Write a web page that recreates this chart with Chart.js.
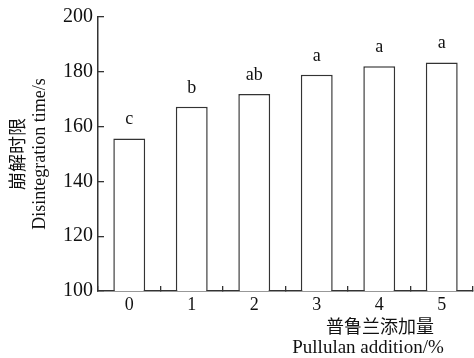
<!DOCTYPE html>
<html>
<head>
<meta charset="utf-8">
<script src="https://cdn.jsdelivr.net/npm/chart.js@4/dist/chart.umd.min.js"></script>
<style>
  body { margin: 0; background: #fff; }
  canvas { display: block; }
</style>
</head>
<body>
<canvas id="chart" width="474" height="358"></canvas>
<script>
const additions = ['0', '1', '2', '3', '4', '5'];
const disintegrationTimes = [155.7, 167.2, 171.9, 178.9, 182.0, 183.4];
const sigLetters = ['c', 'b', 'ab', 'a', 'a', 'a'];

const SERIF = '"Liberation Serif", "Times New Roman", serif';
const CJK = '"Noto Sans CJK SC", sans-serif';

// significance letters above each bar, plus the x axis title lines
const letterPlugin = {
  id: 'letters',
  afterDatasetsDraw(chart) {
    const ctx = chart.ctx;
    const meta = chart.getDatasetMeta(0);
    ctx.save();
    ctx.fillStyle = '#111';
    ctx.font = '18px ' + SERIF;
    ctx.textAlign = 'center';
    ctx.textBaseline = 'middle';
    meta.data.forEach((bar, i) => {
      ctx.fillText(sigLetters[i], bar.x, bar.y - 19);
    });
    ctx.restore();
  },
  afterDraw(chart) {
    const ctx = chart.ctx;
    ctx.save();
    ctx.fillStyle = '#111';
    ctx.textAlign = 'center';
    ctx.textBaseline = 'middle';
    ctx.font = '18px ' + CJK;
    ctx.fillText('普鲁兰添加量', 380, 326);
    ctx.font = '19px ' + SERIF;
    ctx.fillText('Pullulan addition/%', 368, 348);
    ctx.restore();
  }
};

new Chart(document.getElementById('chart'), {
  type: 'bar',
  data: {
    labels: additions,
    datasets: [{
      data: disintegrationTimes,
      backgroundColor: '#fff',
      borderColor: '#333',
      borderWidth: 1.5,
      barPercentage: 0.51,
      categoryPercentage: 1
    }]
  },
  options: {
    responsive: false,
    animation: false,
    layout: { padding: { top: 17, right: 1, left: 0, bottom: 0 } },
    plugins: { legend: { display: false }, tooltip: { enabled: false } },
    scales: {
      x: {
        grid: { display: true, drawOnChartArea: false, tickLength: -5, color: '#333', lineWidth: 1.3 },
        border: { color: '#333', width: 1.5 },
        ticks: { color: '#111', font: { family: SERIF, size: 18 }, padding: 8 },
        afterFit: s => { s.height = 67; }
      },
      y: {
        min: 100,
        max: 200,
        ticks: { stepSize: 20, color: '#111', font: { family: SERIF, size: 20 }, padding: 11 },
        grid: { display: true, drawOnChartArea: false, tickLength: -6, color: '#333', lineWidth: 1.3 },
        border: { color: '#333', width: 1.5 },
        title: {
          display: true,
          text: ['崩解时限', 'Disintegration time/s'],
          color: '#111',
          font: { family: SERIF + ', ' + CJK, size: 18, lineHeight: 1.2 },
          padding: { top: 8, bottom: 0 }
        },
        afterFit: s => { s.width = 98; s.paddingTop = 0; s.paddingBottom = 0; }
      }
    }
  },
  plugins: [letterPlugin]
});
</script>
</body>
</html>
